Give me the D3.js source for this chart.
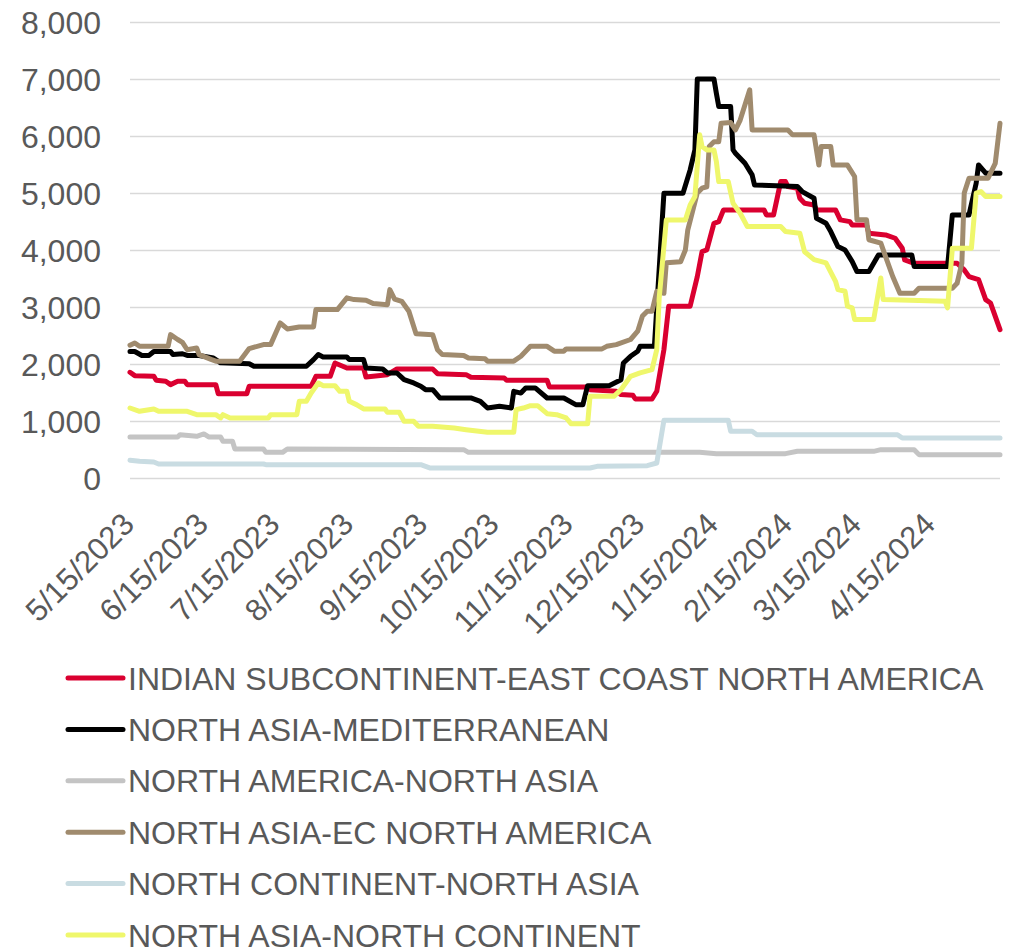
<!DOCTYPE HTML>
<html>
<head>
<title>Container rates by trade lane</title>
<script src="https://cdn.jsdelivr.net/npm/d3@7/dist/d3.min.js"></script>
<style>
    body { margin: 0; background: #fff; }
    text { font-family: "Liberation Sans", Arial, sans-serif; fill: #595959; }
</style>
</head>
<body>
<svg id="chart" width="1013" height="950"></svg>
<script>
    // days are counted from 5/15/2023
    const START = new Date(2023, 4, 15);
    const LAST_DAY = 365;

    const xTickLabels = ["5/15/2023", "6/15/2023", "7/15/2023", "8/15/2023", "9/15/2023", "10/15/2023",
        "11/15/2023", "12/15/2023", "1/15/2024", "2/15/2024", "3/15/2024", "4/15/2024"];
    const yTicks = [0, 1000, 2000, 3000, 4000, 5000, 6000, 7000, 8000];

    const seriesNames = [
        "INDIAN SUBCONTINENT-EAST COAST NORTH AMERICA",
        "NORTH ASIA-MEDITERRANEAN",
        "NORTH AMERICA-NORTH ASIA",
        "NORTH ASIA-EC NORTH AMERICA",
        "NORTH CONTINENT-NORTH ASIA",
        "NORTH ASIA-NORTH CONTINENT"
    ];

    // [day, rate]
    const indianSubEcna = [[0,1855],[2,1796],[10,1784],[11,1714],[15,1697],[17,1638],[20,1697],[23,1697],[24,1638],
        [36,1638],[37,1480],[49,1480],[50,1609],[76,1609],[78,1784],[84,1784],[86,2018],[91,1930],[98,1930],[99,1772],
        [108,1813],[112,1913],[127,1913],[129,1831],[141,1813],[143,1767],[157,1755],[158,1714],[175,1714],[176,1597],
        [192,1597],[193,1550],[204,1521],[206,1463],[211,1451],[212,1386],[219,1386],[221,1521],[224,2252],[226,3013],
        [235,3013],[238,3533],[240,3972],[242,4001],[245,4469],[247,4498],[249,4703],[266,4703],[267,4616],[270,4616],
        [273,5200],[275,5200],[276,5113],[280,5084],[281,4908],[283,4820],[287,4791],[288,4703],[296,4703],[298,4528],
        [302,4498],[303,4440],[309,4440],[310,4294],[317,4264],[321,4206],[324,4031],[325,3826],[329,3767],[347,3767],
        [350,3650],[352,3533],[356,3480],[359,3130],[361,3071],[365,2603]];

    const northAsiaMed = [[0,2220],[2,2220],[5,2150],[8,2150],[10,2220],[17,2220],[18,2165],[22,2180],[24,2150],[29,2150],
        [35,2105],[38,2020],[50,2005],[52,1960],[74,1960],[77,2077],[79,2165],[81,2123],[91,2123],[92,2077],[98,2077],
        [99,1930],[106,1913],[108,1843],[112,1843],[115,1725],[119,1667],[122,1610],[124,1550],[127,1550],[130,1404],
        [143,1404],[147,1345],[150,1228],[155,1258],[160,1228],[161,1521],[164,1490],[166,1580],[170,1580],[175,1404],
        [182,1404],[187,1287],[190,1287],[192,1620],[201,1620],[206,1725],[207,2018],[210,2135],[213,2223],[214,2310],
        [220,2310],[224,4996],[232,4996],[235,5405],[237,5756],[238,7000],[245,7000],[246,6750],[247,6517],[252,6517],
        [253,5756],[254,5698],[258,5522],[261,5318],[262,5142],[280,5113],[282,5025],[287,4908],[288,4557],[292,4469],
        [294,4323],[297,4060],[300,4001],[303,3797],[305,3621],[310,3621],[314,3914],[328,3914],[329,3709],[343,3709],
        [345,4616],[352,4616],[355,5171],[356,5493],[359,5347],[365,5347]];

    const northAmericaNorthAsia = [[0,720],[20,720],[21,760],[28,731],[31,772],[33,720],[38,720],[39,644],[43,644],
        [44,509],[56,509],[57,450],[64,450],[66,509],[140,497],[142,450],[239,450],[246,427],[275,427],[280,468],
        [312,468],[315,497],[329,497],[331,410],[365,410]];

    const northAsiaEcna = [[0,2330],[2,2370],[4,2310],[16,2310],[17,2515],[20,2430],[22,2380],[24,2250],[28,2280],
        [29,2165],[34,2080],[36,2050],[46,2050],[50,2270],[56,2340],[59,2340],[63,2720],[66,2615],[71,2650],[77,2650],
        [78,2955],[87,2955],[91,3160],[94,3130],[99,3120],[102,3060],[108,3040],[109,3305],[111,3140],[114,3100],
        [117,2925],[120,2530],[127,2515],[129,2250],[131,2165],[140,2150],[142,2105],[149,2090],[150,2050],[161,2050],
        [164,2135],[168,2310],[175,2310],[178,2225],[182,2225],[183,2265],[198,2265],[200,2310],[204,2340],[210,2430],
        [213,2575],[215,2840],[217,2925],[219,2925],[221,3275],[224,3240],[225,3775],[231,3795],[233,4000],[234,4350],
        [238,5000],[240,5085],[242,5110],[243,5815],[245,5900],[247,5900],[248,6225],[252,6235],[254,6107],[256,6280],
        [260,6810],[261,6107],[276,6107],[278,6020],[287,6020],[289,5490],[290,5815],[294,5815],[295,5490],[301,5490],
        [304,5290],[305,4530],[309,4530],[310,4180],[315,4120],[317,3885],[320,3535],[323,3240],[329,3240],[331,3330],
        [345,3330],[347,3415],[349,3770],[350,5000],[352,5260],[360,5260],[363,5520],[365,6225]];

    const northContNorthAsia = [[0,310],[4,292],[10,281],[12,246],[56,246],[57,234],[122,234],[126,175],[193,175],
        [196,205],[217,216],[221,263],[224,1012],[251,1012],[252,819],[261,819],[263,760],[322,760],[324,702],[365,702]];

    const northAsiaNorthCont = [[0,1228],[4,1170],[10,1211],[12,1170],[24,1170],[28,1111],[36,1111],[38,1053],[39,1111],
        [42,1053],[58,1053],[59,1111],[70,1111],[71,1345],[74,1345],[76,1492],[79,1667],[81,1620],[86,1620],[88,1521],
        [91,1521],[92,1345],[95,1287],[98,1211],[107,1211],[108,1152],[113,1152],[115,994],[119,994],[121,907],
        [127,907],[136,877],[141,848],[150,801],[161,801],[162,1199],[165,1228],[168,1269],[171,1269],[175,1129],
        [179,1111],[183,1053],[185,953],[192,953],[193,1433],[203,1433],[206,1550],[210,1784],[214,1843],[219,1901],
        [221,2252],[222,3150],[225,4528],[233,4528],[235,4791],[237,4937],[239,6020],[240,5815],[242,5756],[245,5756],
        [246,5552],[247,5200],[251,5200],[253,4820],[256,4645],[259,4411],[273,4411],[275,4323],[281,4294],[283,3970],
        [287,3831],[292,3773],[296,3451],[297,3305],[300,3276],[301,3013],[303,2984],[304,2779],[312,2779],[315,3510],
        [316,3130],[342,3100],[343,2984],[345,4031],[353,4031],[355,4996],[357,5025],[359,4937],[365,4937]];

    const seriesData = [indianSubEcna, northAsiaMed, northAmericaNorthAsia, northAsiaEcna, northContNorthAsia, northAsiaNorthCont];
    const seriesColors = ["#DA0030", "#000000", "#C4C4C4", "#A08B6E", "#C9DCE2", "#EFF76C"];

    const LEFT = 130, RIGHT = 1000, TOP = 22, BOTTOM = 478;

    function toDate(day) {
        return d3.timeDay.offset(START, day);
    }

    function parseTick(s) {
        let [m, d, y] = s.split("/").map(Number);
        return new Date(y, m - 1, d);
    }

    let svg = d3.select("#chart");

    let x = d3.scaleTime().domain([START, toDate(LAST_DAY)]).range([LEFT, RIGHT]);
    let y = d3.scaleLinear().domain([0, 8000]).range([BOTTOM, TOP]);

    // gridlines
    svg.append("g")
        .attr("transform", `translate(${LEFT},0)`)
        .call(d3.axisLeft(y).tickValues(yTicks).tickSize(-(RIGHT - LEFT)).tickFormat(""))
        .call(g => g.select(".domain").remove())
        .selectAll("line")
        .attr("stroke", "#D9D9D9")
        .attr("stroke-width", 1.5);

    // y labels
    svg.append("g")
        .selectAll("text")
        .data(yTicks)
        .enter()
        .append("text")
        .attr("x", 101)
        .attr("y", d => y(d) + 11.5)
        .attr("text-anchor", "end")
        .style("font-size", "32px")
        .text(d => d3.format(",")(d));

    // x labels
    svg.append("g")
        .selectAll("text")
        .data(xTickLabels)
        .enter()
        .append("text")
        .attr("transform", d => `translate(${x(parseTick(d)) + 6},${BOTTOM + 48}) rotate(-45)`)
        .attr("text-anchor", "end")
        .style("font-size", "31px")
        .text(d => d);

    let line = d3.line()
        .x(d => x(toDate(d[0])))
        .y(d => y(d[1]));

    seriesData.forEach((series, i) => {
        svg.append("path")
            .datum(series)
            .attr("fill", "none")
            .attr("stroke", seriesColors[i])
            .attr("stroke-width", 5)
            .attr("stroke-linejoin", "round")
            .attr("stroke-linecap", "round")
            .attr("d", line);
    });

    // legend
    let legend = svg.append("g")
        .selectAll("g")
        .data(seriesNames)
        .enter()
        .append("g")
        .attr("transform", (d, i) => `translate(0,${678 + i * 51.4})`);

    legend.append("line")
        .attr("x1", 68).attr("x2", 123)
        .attr("stroke", (d, i) => seriesColors[i])
        .attr("stroke-width", 5)
        .attr("stroke-linecap", "round");

    legend.append("text")
        .attr("x", 128)
        .attr("y", 11.5)
        .style("font-size", "32px")
        .text(d => d);
</script>
</body>
</html>
